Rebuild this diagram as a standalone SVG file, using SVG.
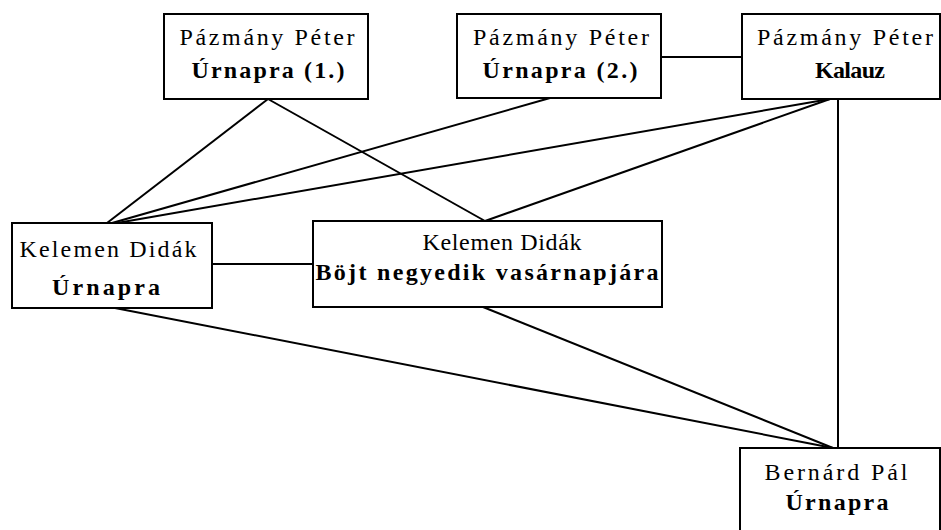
<svg xmlns="http://www.w3.org/2000/svg" width="941" height="530" viewBox="0 0 941 530">
  <style>
    .box { fill: #fff; stroke: #000; stroke-width: 2; }
    .edge { stroke: #000; stroke-width: 2; fill: none; }
    .t { font-family: "Liberation Serif", "Times New Roman", serif; font-size: 24px; fill: #000; text-anchor: middle; }
    .b { font-weight: bold; }
  </style>
  <rect x="0" y="0" width="941" height="530" fill="#fff"/>
  <g id="connectors">
    <line class="edge" x1="268" y1="99" x2="107" y2="223"/>
    <line class="edge" x1="268" y1="99" x2="485" y2="221"/>
    <line class="edge" x1="550" y1="98" x2="112" y2="223"/>
    <line class="edge" x1="830" y1="99" x2="117" y2="223"/>
    <line class="edge" x1="830" y1="99" x2="485" y2="221"/>
    <line class="edge" x1="661" y1="57" x2="742" y2="57"/>
    <line class="edge" x1="212" y1="264" x2="313" y2="264"/>
    <line class="edge" x1="838" y1="99" x2="838" y2="448"/>
    <line class="edge" x1="115" y1="308" x2="833" y2="448"/>
    <line class="edge" x1="483" y1="307" x2="833" y2="448"/>
  </g>
  <g id="pazmany-urnapra-1">
    <rect class="box" x="164" y="14" width="204" height="85"/>
    <text class="t" x="267" y="45" textLength="175" lengthAdjust="spacing">Pázmány Péter</text>
    <text class="t b" x="268" y="78" textLength="153" lengthAdjust="spacing">Úrnapra (1.)</text>
  </g>
  <g id="pazmany-urnapra-2">
    <rect class="box" x="457" y="14" width="204" height="84"/>
    <text class="t" x="561" y="45" textLength="176" lengthAdjust="spacing">Pázmány Péter</text>
    <text class="t b" x="560" y="78" textLength="155" lengthAdjust="spacing">Úrnapra (2.)</text>
  </g>
  <g id="pazmany-kalauz">
    <rect class="box" x="742" y="14" width="198" height="85"/>
    <text class="t" x="845" y="45" textLength="176" lengthAdjust="spacing">Pázmány Péter</text>
    <text class="t b" x="850" y="78" textLength="70" lengthAdjust="spacing">Kalauz</text>
  </g>
  <g id="kelemen-urnapra">
    <rect class="box" x="12" y="223" width="200" height="85"/>
    <text class="t" x="108" y="257" textLength="177" lengthAdjust="spacing">Kelemen Didák</text>
    <text class="t b" x="106" y="295" textLength="108" lengthAdjust="spacing">Úrnapra</text>
  </g>
  <g id="kelemen-bojt">
    <rect class="box" x="313" y="221" width="349" height="86"/>
    <text class="t" x="502" y="250" textLength="159" lengthAdjust="spacing">Kelemen Didák</text>
    <text class="t b" x="487" y="280" textLength="343" lengthAdjust="spacing">Böjt negyedik vasárnapjára</text>
  </g>
  <g id="bernard-urnapra">
    <rect class="box" x="740" y="448" width="200" height="90"/>
    <text class="t" x="836" y="480" textLength="143" lengthAdjust="spacing">Bernárd Pál</text>
    <text class="t b" x="837" y="510" textLength="103" lengthAdjust="spacing">Úrnapra</text>
  </g>
</svg>
